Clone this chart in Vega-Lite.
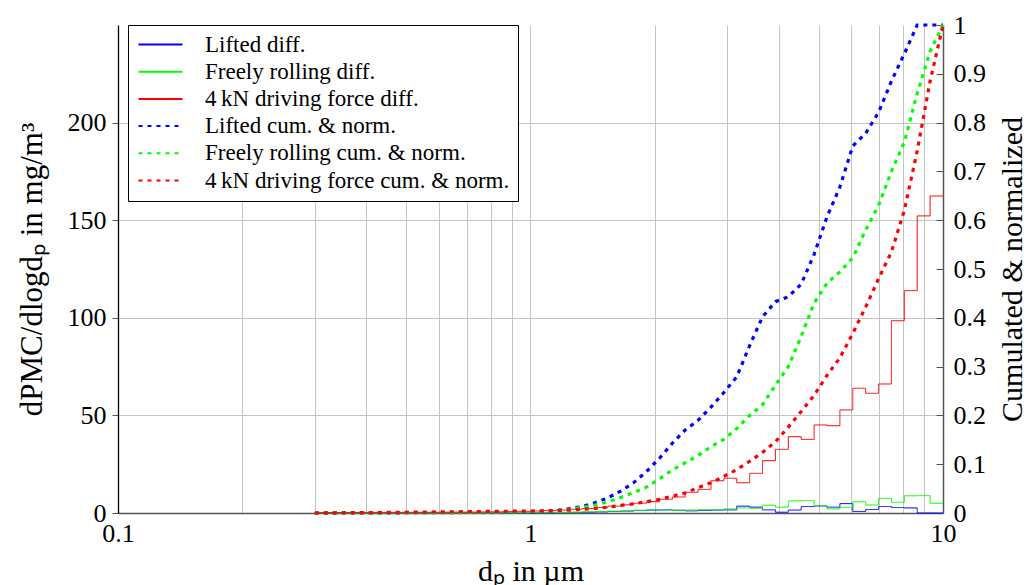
{
  "$schema": "https://vega.github.io/schema/vega-lite/v6.json",
  "width": 825,
  "height": 488,
  "autosize": {"type": "none"},
  "padding": {"left": 118, "top": 25, "right": 84, "bottom": 72},
  "background": "white",
  "config": {
    "view": {"stroke": null},
    "font": "Liberation Serif",
    "axis": {
      "labelFont": "Liberation Serif",
      "titleFont": "Liberation Serif",
      "labelFontSize": 26,
      "titleFontSize": 30,
      "labelColor": "black",
      "titleColor": "black",
      "titleFontWeight": "normal",
      "gridColor": "#c4c4c4",
      "gridWidth": 1,
      "domainColor": "#555555",
      "tickColor": "#555555"
    }
  },
  "layer": [
    {
      "data": {"values": [
        {"d": 0.3, "l": 0.01, "f": 0.01, "r": 0.25},
        {"d": 0.31623, "l": 0.01, "f": 0.01, "r": 0.25},
        {"d": 0.33982, "l": 0.01, "f": 0.02, "r": 0.26},
        {"d": 0.36517, "l": 0.01, "f": 0.02, "r": 0.28},
        {"d": 0.39242, "l": 0.01, "f": 0.02, "r": 0.3},
        {"d": 0.4217, "l": 0.01, "f": 0.02, "r": 0.32},
        {"d": 0.45316, "l": 0.01, "f": 0.03, "r": 0.34},
        {"d": 0.48697, "l": 0.02, "f": 0.03, "r": 0.36},
        {"d": 0.5233, "l": 0.02, "f": 0.03, "r": 0.38},
        {"d": 0.56234, "l": 0.02, "f": 0.04, "r": 0.4},
        {"d": 0.6043, "l": 0.02, "f": 0.04, "r": 0.42},
        {"d": 0.64938, "l": 0.03, "f": 0.05, "r": 0.45},
        {"d": 0.69783, "l": 0.03, "f": 0.05, "r": 0.5},
        {"d": 0.74989, "l": 0.03, "f": 0.06, "r": 0.55},
        {"d": 0.80584, "l": 0.04, "f": 0.07, "r": 0.6},
        {"d": 0.86596, "l": 0.04, "f": 0.08, "r": 0.7},
        {"d": 0.93057, "l": 0.05, "f": 0.1, "r": 0.8},
        {"d": 1.0, "l": 0.08, "f": 0.15, "r": 1.0},
        {"d": 1.07461, "l": 0.12, "f": 0.2, "r": 1.2},
        {"d": 1.15478, "l": 0.2, "f": 0.3, "r": 1.5},
        {"d": 1.24094, "l": 0.3, "f": 0.45, "r": 1.9},
        {"d": 1.33352, "l": 0.4, "f": 0.6, "r": 2.3},
        {"d": 1.43301, "l": 0.55, "f": 0.8, "r": 2.8},
        {"d": 1.53993, "l": 0.8, "f": 0.95, "r": 3.5},
        {"d": 1.65482, "l": 1.0, "f": 1.0, "r": 4.2},
        {"d": 1.77828, "l": 1.3, "f": 1.4, "r": 5.0},
        {"d": 1.91095, "l": 1.5, "f": 1.6, "r": 5.8},
        {"d": 2.05353, "l": 1.6, "f": 1.5, "r": 7.0},
        {"d": 2.20673, "l": 1.4, "f": 1.4, "r": 8.2},
        {"d": 2.37137, "l": 1.1, "f": 1.5, "r": 10.6},
        {"d": 2.5483, "l": 1.3, "f": 1.7, "r": 12.1},
        {"d": 2.73842, "l": 1.5, "f": 1.6, "r": 16.5},
        {"d": 2.94273, "l": 1.6, "f": 2.1, "r": 17.8},
        {"d": 3.16228, "l": 3.5, "f": 2.6, "r": 15.5},
        {"d": 3.39821, "l": 3.0, "f": 2.4, "r": 20.3},
        {"d": 3.65174, "l": 1.6, "f": 4.0, "r": 26.8},
        {"d": 3.92419, "l": 0.4, "f": 3.0, "r": 32.6},
        {"d": 4.21697, "l": 1.5, "f": 6.2, "r": 39.1},
        {"d": 4.53158, "l": 3.3, "f": 6.4, "r": 37.7},
        {"d": 4.86968, "l": 3.6, "f": 3.8, "r": 45.1},
        {"d": 5.23299, "l": 3.0, "f": 2.1, "r": 44.7},
        {"d": 5.62341, "l": 4.8, "f": 2.9, "r": 52.8},
        {"d": 6.04296, "l": 0.8, "f": 5.7, "r": 63.9},
        {"d": 6.49382, "l": 1.8, "f": 4.1, "r": 61.3},
        {"d": 6.97831, "l": 3.3, "f": 7.5, "r": 66.1},
        {"d": 7.49894, "l": 2.8, "f": 5.5, "r": 98.5},
        {"d": 8.05842, "l": 2.6, "f": 8.8, "r": 113.9},
        {"d": 8.65964, "l": 0, "f": 8.9, "r": 152.2},
        {"d": 9.30572, "l": 0, "f": 5.0, "r": 162.4},
        {"d": 10, "l": 0, "f": 5.0, "r": 162.4}
      ]},
      "transform": [{"fold": ["l", "f", "r"], "as": ["key", "v"]}],
      "mark": {"type": "line", "interpolate": "step-after", "strokeWidth": 1},
      "encoding": {
        "x": {
          "field": "d", "type": "quantitative",
          "scale": {"type": "log", "domain": [0.1, 10]},
          "axis": {
            "values": [0.1, 0.2, 0.3, 0.4, 0.5, 0.6, 0.7, 0.8, 0.9, 1, 2, 3, 4, 5, 6, 7, 8, 9, 10],
            "labelExpr": "datum.value == 0.1 || datum.value == 1 || datum.value == 10 ? format(datum.value, '~g') : ''",
            "grid": true,
            "ticks": false,
            "labelPadding": 7,
            "labelOverlap": false,
            "labelFlush": false,
            "domainWidth": 1.5,
            "title": "dₚ in µm",
            "titlePadding": 10
          }
        },
        "y": {
          "field": "v", "type": "quantitative",
          "scale": {"domain": [0, 250]},
          "axis": {
            "values": [0, 50, 100, 150, 200],
            "grid": true,
            "tickSize": 6,
            "labelPadding": 6,
            "domainColor": "black",
            "domainWidth": 1.3,
            "title": "dPMC/dlogdₚ in mg/m³",
            "titleFontSize": 31,
            "titlePadding": 19
          }
        },
        "color": {
          "field": "key", "type": "nominal",
          "scale": {
            "domain": ["l", "f", "r", "lc", "fc", "rc"],
            "range": ["#0000ff", "#00ff00", "#ff0000", "#0000ff", "#00ff00", "#ff0000"]
          },
          "legend": {
            "orient": "none",
            "legendX": 10,
            "legendY": 0,
            "title": null,
            "symbolType": "M-4.4,0L4.4,0",
            "symbolSize": 100,
            "symbolStrokeWidth": 2,
            "symbolOffset": 13,
            "labelOffset": 33,
            "labelFont": "Liberation Serif",
            "labelFontSize": 23,
            "labelColor": "black",
            "labelLimit": 600,
            "padding": 8,
            "rowPadding": 3.2,
            "strokeColor": "black",
            "fillColor": "white",
            "labelExpr": "datum.value == 'l' ? 'Lifted diff.' : datum.value == 'f' ? 'Freely rolling diff.' : datum.value == 'r' ? '4\u2009kN driving force diff.' : datum.value == 'lc' ? 'Lifted cum. & norm.' : datum.value == 'fc' ? 'Freely rolling cum. & norm.' : '4\u2009kN driving force cum. & norm.'"
          }
        },
        "strokeDash": {
          "field": "key", "type": "nominal",
          "scale": {
            "domain": ["l", "f", "r", "lc", "fc", "rc"],
            "range": [[1, 0], [1, 0], [1, 0], [4, 5], [4, 5], [4, 5]]
          },
          "legend": null
        }
      }
    },
    {
      "data": {"values": [
        {"d": 0.3, "lc": 0, "fc": 0, "rc": 0},
        {"d": 0.31623, "lc": 0.0001, "fc": 0.0001, "rc": 0.0003},
        {"d": 0.4217, "lc": 0.0003, "fc": 0.0004, "rc": 0.001},
        {"d": 0.56234, "lc": 0.0006, "fc": 0.0008, "rc": 0.002},
        {"d": 0.74989, "lc": 0.0012, "fc": 0.0015, "rc": 0.003},
        {"d": 0.86596, "lc": 0.0018, "fc": 0.002, "rc": 0.0035},
        {"d": 1.0, "lc": 0.0025, "fc": 0.003, "rc": 0.004},
        {"d": 1.07461, "lc": 0.0035, "fc": 0.004, "rc": 0.0045},
        {"d": 1.15478, "lc": 0.005, "fc": 0.0055, "rc": 0.005},
        {"d": 1.24094, "lc": 0.009, "fc": 0.0078, "rc": 0.006},
        {"d": 1.33352, "lc": 0.013, "fc": 0.011, "rc": 0.0078},
        {"d": 1.43301, "lc": 0.021, "fc": 0.016, "rc": 0.0094},
        {"d": 1.53993, "lc": 0.031, "fc": 0.023, "rc": 0.012},
        {"d": 1.65482, "lc": 0.045, "fc": 0.032, "rc": 0.0155},
        {"d": 1.77828, "lc": 0.062, "fc": 0.042, "rc": 0.019},
        {"d": 1.91095, "lc": 0.085, "fc": 0.053, "rc": 0.023},
        {"d": 2.05353, "lc": 0.112, "fc": 0.07, "rc": 0.028},
        {"d": 2.20673, "lc": 0.143, "fc": 0.088, "rc": 0.0345},
        {"d": 2.37137, "lc": 0.17, "fc": 0.103, "rc": 0.041},
        {"d": 2.5483, "lc": 0.19, "fc": 0.118, "rc": 0.052},
        {"d": 2.73842, "lc": 0.217, "fc": 0.136, "rc": 0.062},
        {"d": 2.94273, "lc": 0.247, "fc": 0.151, "rc": 0.075},
        {"d": 3.16228, "lc": 0.279, "fc": 0.173, "rc": 0.089},
        {"d": 3.39821, "lc": 0.343, "fc": 0.2, "rc": 0.106},
        {"d": 3.65174, "lc": 0.402, "fc": 0.222, "rc": 0.124},
        {"d": 3.92419, "lc": 0.433, "fc": 0.262, "rc": 0.146},
        {"d": 4.21697, "lc": 0.443, "fc": 0.3, "rc": 0.176},
        {"d": 4.53158, "lc": 0.469, "fc": 0.362, "rc": 0.208},
        {"d": 4.86968, "lc": 0.53, "fc": 0.43, "rc": 0.241},
        {"d": 5.23299, "lc": 0.607, "fc": 0.471, "rc": 0.282},
        {"d": 5.62341, "lc": 0.668, "fc": 0.494, "rc": 0.318},
        {"d": 6.04296, "lc": 0.752, "fc": 0.523, "rc": 0.368},
        {"d": 6.49382, "lc": 0.778, "fc": 0.58, "rc": 0.422},
        {"d": 6.97831, "lc": 0.821, "fc": 0.63, "rc": 0.48},
        {"d": 7.49894, "lc": 0.885, "fc": 0.7, "rc": 0.535},
        {"d": 8.05842, "lc": 0.941, "fc": 0.76, "rc": 0.62},
        {"d": 8.65964, "lc": 1.0, "fc": 0.86, "rc": 0.742},
        {"d": 9.30572, "lc": 1.0, "fc": 0.946, "rc": 0.885},
        {"d": 10, "lc": 1.0, "fc": 1.0, "rc": 1.0}
      ]},
      "transform": [{"fold": ["lc", "fc", "rc"], "as": ["key", "v"]}],
      "mark": {"type": "line", "strokeWidth": 3.2},
      "encoding": {
        "x": {"field": "d", "type": "quantitative"},
        "y": {
          "field": "v", "type": "quantitative",
          "scale": {"domain": [0, 1]},
          "axis": {
            "orient": "right",
            "values": [0, 0.1, 0.2, 0.3, 0.4, 0.5, 0.6, 0.7, 0.8, 0.9, 1],
            "format": ".1~f",
            "grid": false,
            "tickSize": -7,
            "labelPadding": 17,
            "domainWidth": 1.5,
            "title": "Cumulated & normalized",
            "titleAngle": 270,
            "titleBaseline": "top",
            "titlePadding": 12
          }
        },
        "color": {"field": "key", "type": "nominal"},
        "strokeDash": {"field": "key", "type": "nominal"}
      }
    }
  ],
  "resolve": {"scale": {"y": "independent"}}
}
